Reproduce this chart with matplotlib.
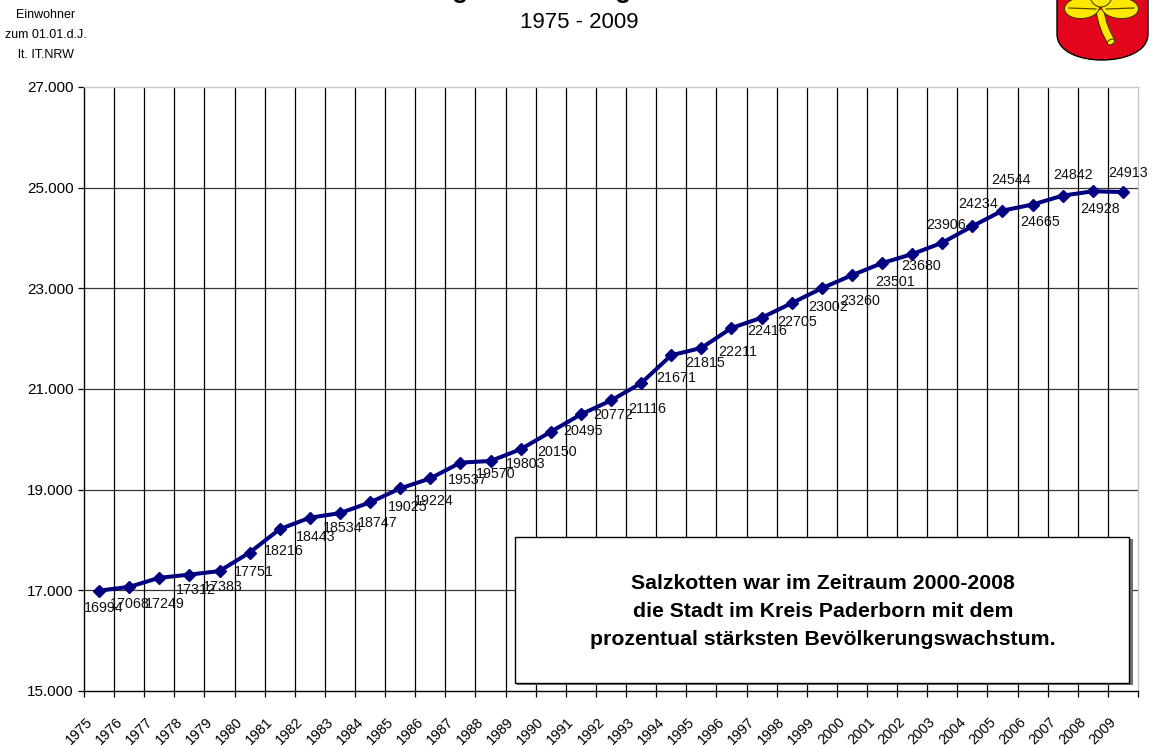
import numpy as np
import matplotlib
matplotlib.use("Agg")
import matplotlib.pyplot as plt
from matplotlib.patches import Rectangle, Ellipse, PathPatch
from matplotlib.path import Path
import matplotlib.transforms as mtransforms
import matplotlib.patheffects as pe

plt.rcParams['font.family'] = ['Liberation Sans', 'DejaVu Sans']

# ---------------- data ----------------
years = ["1975", "1976", "1977", "1978", "1979", "1980", "1981", "1982", "1983",
         "1984", "1985", "1986", "1987", "1988", "1989", "1990", "1991", "1992",
         "1993", "1994", "1995", "1996", "1997", "1998", "1999", "2000", "2001",
         "2002", "2003", "2004", "2005", "2006", "2007", "2008", "2009"]
population = [16994, 17068, 17249, 17312, 17383, 17751, 18216, 18443, 18534,
              18747, 19025, 19224, 19537, 19570, 19803, 20150, 20495, 20772,
              21116, 21671, 21815, 22211, 22416, 22705, 23002, 23260, 23501,
              23680, 23906, 24234, 24544, 24665, 24842, 24928, 24913]
y_ticks = [15000, 17000, 19000, 21000, 23000, 25000, 27000]

# label offsets (pixels: right, down) as placed in the original
label_offsets = [(5, 17), (1, 17), (5, 26), (6, 15), (3, 16), (4, 19), (4, 22),
                 (6, 19), (3, 15), (8, 21), (7, 19), (3, 23), (7, 17), (5, 13),
                 (5, 15), (6, 20), (2, 17), (2, 15), (6, 26), (5, 23), (4, 15),
                 (6, 24), (6, 13), (5, 19), (6, 19), (8, 26), (13, 19), (9, 12),
                 (4, -18), (6, -22), (9, -31), (8, 17), (10, -21), (7, 18), (5, -19)]

title = "Bevölkerungsentwicklung in Salzkotten"
subtitle = "1975 - 2009"
unit_lines = ["Einwohner", "zum 01.01.d.J.", "lt. IT.NRW"]
box_lines = ["Salzkotten war im Zeitraum 2000-2008",
             "die Stadt im Kreis Paderborn mit dem",
             "prozentual stärksten Bevölkerungswachstum."]

# ---------------- figure ----------------
W, H = 1157, 745
fig = plt.figure(figsize=(W / 100, H / 100), dpi=100)
fig.patch.set_facecolor('white')


def fx(px):
    return px / W


def fy(py):
    return 1 - py / H


ax = fig.add_axes([fx(84), fy(691), (1138 - 84) / W, (691 - 87) / H])
n = len(population)
x = np.arange(n)
ax.set_xlim(-0.5, n - 0.5)
ax.set_ylim(y_ticks[0], y_ticks[-1])

for yv in y_ticks[1:-1]:
    ax.axhline(yv, color='#383838', lw=0.9, zorder=1)
for b in np.arange(0.5, n - 0.5, 1):
    ax.axvline(b, color='black', lw=0.9, zorder=1)

for s in ['left', 'bottom']:
    ax.spines[s].set_color('black')
    ax.spines[s].set_linewidth(1.0)
for s in ['top', 'right']:
    ax.spines[s].set_color('#c8c8c8')
    ax.spines[s].set_linewidth(1.0)

# category boundaries as major ticks, labels at category centres
ax.set_xticks(np.arange(-0.5, n, 1))
ax.set_xticklabels([])
ax.tick_params(axis='x', which='major', direction='out', length=4, width=0.9, color='black')
ax.set_xticks(x, minor=True)
ax.set_xticklabels(years, minor=True, rotation=45, ha='right', fontsize=10.3)
ax.tick_params(axis='x', which='minor', length=0, pad=17)
shift = mtransforms.ScaledTranslation(-4 / 100, 0, fig.dpi_scale_trans)
for lab in ax.get_xticklabels(minor=True):
    lab.set_transform(lab.get_transform() + shift)

ax.set_yticks(y_ticks)
ax.set_yticklabels([f"{v:,}".replace(",", ".") for v in y_ticks], fontsize=11)
ax.tick_params(axis='y', direction='out', length=4.5, width=0.9, pad=3, color='black')

ax.plot(x, population, color='#000080', lw=2.9, marker='D', ms=6.5,
        mfc='#000080', mec='#000080', zorder=3, clip_on=False)

for xi, v, (dx, dy) in zip(x, population, label_offsets):
    ax.annotate(str(v), (xi, v), xytext=(dx, -dy), textcoords='offset pixels',
                ha='center', va='center', fontsize=10.3, color='#111111', zorder=4)

# ---------------- text box ----------------
fig.patches.append(Rectangle((fx(517), fy(685)), (1131 - 515) / W, (685 - 539) / H,
                             transform=fig.transFigure, facecolor='#707070',
                             edgecolor='none', zorder=2))
fig.patches.append(Rectangle((fx(515), fy(683)), (1129 - 515) / W, (683 - 537) / H,
                             transform=fig.transFigure, facecolor='white',
                             edgecolor='black', lw=1.0, zorder=3))
for i, line in enumerate(box_lines):
    fig.text(fx(823), fy(589 + 28 * i), line, ha='center', va='baseline',
             fontsize=15.3, fontweight='bold', zorder=4)

# ---------------- titles ----------------
fig.text(fx(312), 1 + 2.0 / H, title, ha='left', va='baseline',
         fontsize=18.5, fontweight='bold')
fig.text(fx(579), fy(28), subtitle, ha='center', va='baseline', fontsize=16)
for i, line in enumerate(unit_lines):
    fig.text(fx(46), fy(15 + 20 * i), line, ha='center', va='center', fontsize=9)

# ---------------- coat of arms ----------------
lg = fig.add_axes([fx(1040), fy(70), 117 / W, 70 / H])
lg.set_xlim(1040, 1157)
lg.set_ylim(70, 0)
lg.axis('off')
shield = Path([(1057, -5), (1057, 34), (1057, 52), (1080, 60), (1102, 60),
               (1124, 60), (1148, 52), (1148, 34), (1148, -5), (1057, -5)],
              [Path.MOVETO, Path.LINETO, Path.CURVE4, Path.CURVE4, Path.CURVE4,
               Path.CURVE4, Path.CURVE4, Path.CURVE4, Path.LINETO, Path.CLOSEPOLY])
lg.add_patch(PathPatch(shield, facecolor='#e3051b', edgecolor='black', lw=1.0))
yellow = '#ffe800'
stem = Path([(1100, 10), (1102, 24), (1106, 33), (1111, 41)],
            [Path.MOVETO, Path.CURVE4, Path.CURVE4, Path.CURVE4])
lg.add_patch(PathPatch(stem, facecolor='none', edgecolor=yellow, lw=5,
                       path_effects=[pe.Stroke(linewidth=6.5, foreground='#333300'), pe.Normal()]))
lg.add_patch(Ellipse((1111, 42), 8, 5, angle=-30, facecolor=yellow, edgecolor='#333300', lw=0.7))
lg.add_patch(Ellipse((1082, 8), 35, 21, angle=-4, facecolor=yellow, edgecolor='#333300', lw=0.7))
lg.add_patch(Ellipse((1120, 8), 37, 21, angle=4, facecolor=yellow, edgecolor='#333300', lw=0.7))
lg.add_patch(Ellipse((1101, -8), 24, 30, facecolor=yellow, edgecolor='#333300', lw=0.7))
lg.plot([1069, 1096], [8, 9], color='#5a4a00', lw=0.9)
lg.plot([1106, 1134], [9, 8], color='#5a4a00', lw=0.9)

fig.savefig("out.png", dpi=100, facecolor='white')
